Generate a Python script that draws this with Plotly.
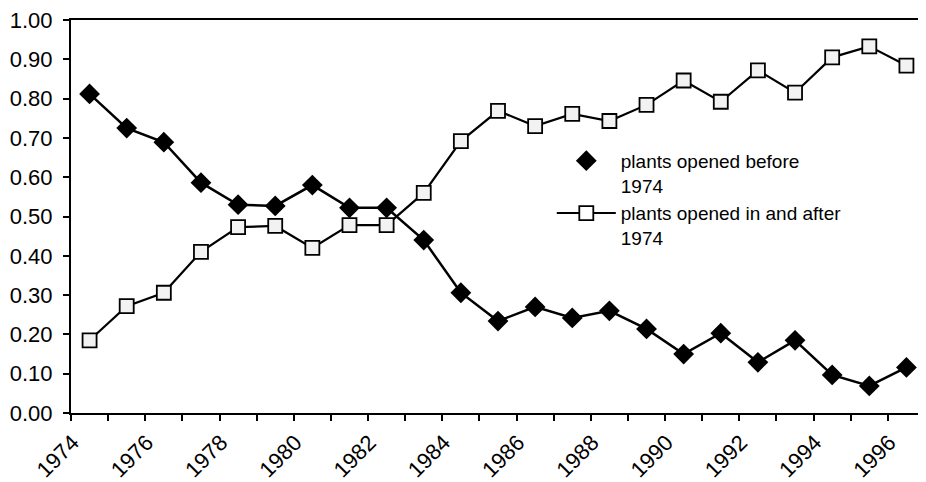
"""Share of plants by opening date, 1974-1996."""
import plotly.graph_objects as go

years = list(range(1974, 1997))

before_1974 = [0.812, 0.725, 0.689, 0.586, 0.530, 0.527, 0.580, 0.522, 0.522, 0.440,
               0.306, 0.234, 0.270, 0.242, 0.260, 0.214, 0.150, 0.203, 0.129, 0.185,
               0.097, 0.069, 0.116]

after_1974 = [0.185, 0.272, 0.306, 0.410, 0.473, 0.476, 0.420, 0.478, 0.478, 0.560,
              0.692, 0.769, 0.730, 0.761, 0.743, 0.784, 0.846, 0.792, 0.872, 0.815,
              0.905, 0.933, 0.884]

year_labels = [str(y) for y in range(1974, 1997, 2)]

FONT = "Liberation Sans, Arial, sans-serif"

fig = go.Figure()

# chart lines (legend drawn by separate traces below)
fig.add_trace(go.Scatter(
    x=years, y=before_1974, mode="lines+markers", showlegend=False,
    line=dict(color="black", width=2.5),
    marker=dict(symbol="diamond", size=16, color="black"),
))
fig.add_trace(go.Scatter(
    x=years, y=after_1974, mode="lines+markers", showlegend=False,
    line=dict(color="black", width=2.2),
    marker=dict(symbol="square", size=14, color="#f2f2f2",
                line=dict(color="black", width=1.8)),
))

# legend entries
fig.add_trace(go.Scatter(
    x=[None], y=[None], mode="markers", name="plants opened before<br>1974",
    marker=dict(symbol="diamond", size=16, color="black"),
))
fig.add_trace(go.Scatter(
    x=[None], y=[None], mode="lines+markers", name="plants opened in and after<br>1974",
    line=dict(color="black", width=2),
    marker=dict(symbol="square", size=14, color="white",
                line=dict(color="black", width=1.8)),
))

# page body has an 8px margin, so the figure is sized to fit the window
fig.update_layout(
    width=918,
    height=474,
    margin=dict(l=63, r=1, t=12, b=69),
    paper_bgcolor="white",
    plot_bgcolor="white",
    font=dict(family=FONT, color="black"),
    legend=dict(
        x=0.563, y=0.69, xanchor="left", yanchor="top",
        font=dict(size=19, family=FONT),
        valign="top", tracegroupgap=0, itemwidth=59,
        bgcolor="rgba(0,0,0,0)",
    ),
)

fig.update_xaxes(
    range=[1973.5, 1996.5],
    tickvals=[int(v) for v in year_labels],
    ticktext=year_labels,
    ticks="",
    tickangle=-45,
    tickfont=dict(size=22, family=FONT),
    ticklabelstandoff=6,
    ticklabelshift=-17,
    ticklabeloverflow="allow",
    automargin=False,
    showgrid=False, zeroline=False,
    showline=True, linecolor="black", linewidth=2, mirror=True,
    minor=dict(ticks="outside", tick0=1973.5, dtick=1, ticklen=6,
               tickcolor="black", tickwidth=1.5, showgrid=False),
)

fig.update_yaxes(
    range=[0, 1],
    dtick=0.1,
    tickformat=".2f",
    ticks="outside", ticklen=6, tickcolor="black", tickwidth=1.5,
    tickfont=dict(size=22, family=FONT),
    ticklabelstandoff=6,
    ticklabeloverflow="allow",
    automargin=False,
    showgrid=False, zeroline=False,
    showline=True, linecolor="black", linewidth=2, mirror=True,
)

fig.write_html("out.html")
